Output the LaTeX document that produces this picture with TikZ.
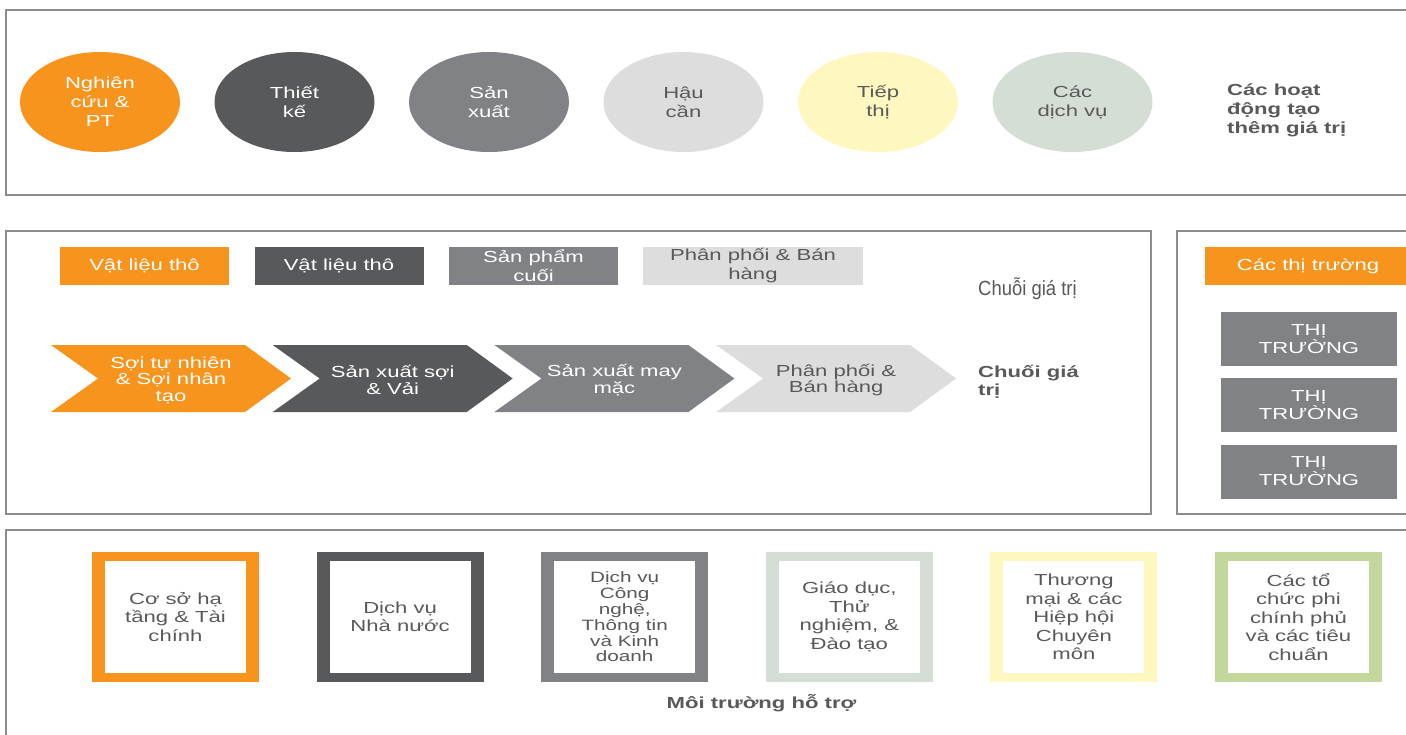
\documentclass[tikz,border=0pt]{standalone}
\usepackage{fontspec}
\setmainfont{Liberation Sans}[FakeStretch=1.38]
\newfontfamily\narrowfont{Liberation Sans}[FakeStretch=0.9]
\usetikzlibrary{shapes.geometric}
\definecolor{corange}{HTML}{F7941D}
\definecolor{cdark}{HTML}{58595B}
\definecolor{cmid}{HTML}{808285}
\definecolor{clight}{HTML}{DDDDDE}
\definecolor{cyellow}{HTML}{FFF7C0}
\definecolor{csage}{HTML}{D5DED5}
\definecolor{cgreen}{HTML}{C3D69B}
\definecolor{textgray}{HTML}{595959}
\definecolor{framegray}{HTML}{8C8C8C}
\begin{document}
\begin{tikzpicture}[x=1pt,y=-1pt,
  txt/.style={font=\fontsize{16}{19}\selectfont, align=center, inner sep=0pt},
  boldtxt/.style={font=\fontsize{16}{19}\selectfont\bfseries, inner sep=0pt, text=textgray},
  frame/.style={draw=framegray, line width=2pt},
  ell/.style={ellipse, minimum width=160pt, minimum height=100pt, inner sep=0pt, txt},
  leg/.style={rectangle, minimum width=169pt, minimum height=38pt, inner sep=0pt, txt},
  mkt/.style={rectangle, minimum width=176pt, minimum height=54pt, inner sep=0pt, fill=cmid, text=white, txt, font=\fontsize{16}{18}\selectfont},
]
\useasboundingbox (0,0) rectangle (1406,734);
\fill[white] (0,0) rectangle (1406,734);

% frames
\draw[frame] (1408,10) -- (6,10) -- (6,195) -- (1408,195);
\draw[frame] (6,231) rectangle (1151,514);
\draw[frame] (1408,231) -- (1177,231) -- (1177,514) -- (1408,514);
\draw[frame] (6,736) -- (6,530) -- (1408,530);

% top ellipses
\foreach \c/\tc/\t [count=\n] in {
  corange/white/{Nghiên\\cứu \&\\PT},
  cdark/white/{Thiết\\kế},
  cmid/white/{Sản\\xuất},
  clight/textgray/{Hậu\\cần},
  cyellow/textgray/{Tiếp\\thị},
  csage/textgray/{Các\\dịch vụ}}
  \node[ell, fill=\c, text=\tc] (e\n) at ({100+194.5*(\n-1)},102) {\t};
\node[boldtxt, align=left, anchor=west] (vat) at (1227,110) {Các hoạt\\động tạo\\thêm giá trị};

% legend boxes
\node[leg, fill=corange, text=white] (l1) at (144.5,266) {Vật liệu thô};
\node[leg, fill=cdark, text=white] (l2) at (339,266) {Vật liệu thô};
\node[leg, fill=cmid, text=white] (l3) at (533.5,266) {Sản phẩm\\cuối};
\node[leg, fill=clight, text=textgray, minimum width=220pt] (l4) at (753,266) {Phân phối \& Bán\\hàng};
\node[anchor=west, inner sep=0pt, text=textgray, font=\narrowfont\fontsize{20.5}{22}\selectfont] (vc1) at (978,289) {Chuỗi giá trị};

% chevrons
\foreach \c/\tc/\t [count=\n from 0] in {
  corange/white/{Sợi tự nhiên\\\& Sợi nhân\\tạo},
  cdark/white/{Sản xuất sợi\\\& Vải},
  cmid/white/{Sản xuất may\\mặc},
  clight/textgray/{Phân phối \&\\Bán hàng}} {
  \pgfmathsetmacro\xo{51+221.7*\n}
  \fill[\c] (\xo,345) -- ({\xo+194},345) -- ({\xo+240},378.5) -- ({\xo+194},412) -- (\xo,412) -- ({\xo+47},378.5) -- cycle;
  \node[txt, font=\fontsize{16}{16.5}\selectfont, text=\tc] (c\n) at ({\xo+120},380) {\t};
}
\node[boldtxt, align=left, anchor=west, font=\fontsize{16}{18}\selectfont\bfseries] (vc2) at (978,382) {Chuối giá\\trị};

% markets
\node[rectangle, minimum width=206pt, minimum height=38pt, inner sep=0pt, fill=corange, text=white, txt] (mk) at (1308,266) {Các thị trường};
\node[mkt] (m1) at (1309,339) {THỊ\\TRƯỜNG};
\node[mkt] (m2) at (1309,405) {THỊ\\TRƯỜNG};
\node[mkt] (m3) at (1309,471.5) {THỊ\\TRƯỜNG};

% bottom squares
\foreach \c/\fs/\ls/\t [count=\n from 0] in {
  corange/16/18.5/{Cơ sở hạ\\tầng \& Tài\\chính},
  cdark/16/18.5/{Dịch vụ\\Nhà nước},
  cmid/15/15.8/{Dịch vụ\\Công\\nghệ,\\Thông tin\\và Kinh\\doanh},
  csage/16/18.5/{Giáo dục,\\Thử\\nghiệm, \&\\Đào tạo},
  cyellow/16/18.5/{Thương\\mại \& các\\Hiệp hội\\Chuyên\\môn},
  cgreen/16/18.5/{Các tổ\\chức phi\\chính phủ\\và các tiêu\\chuẩn}} {
  \pgfmathsetmacro\xc{175.5+224.6*\n}
  \node[rectangle, fill=\c, minimum width=167pt, minimum height=130pt, inner sep=0pt] (s\n) at (\xc,617) {};
  \node[rectangle, fill=white, minimum width=141pt, minimum height=112pt, txt, text=textgray, font=\fontsize{\fs}{\ls}\selectfont] (st\n) at (s\n.center) {\t};
}
\node[boldtxt] (mt) at (761.5,703) {Môi trường hỗ trợ};
\end{tikzpicture}
\end{document}
